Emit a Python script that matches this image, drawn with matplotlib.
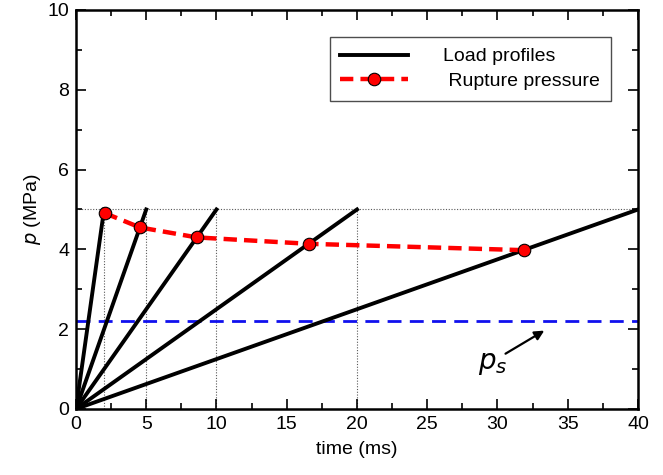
import numpy as np
import matplotlib
matplotlib.use("Agg")
from matplotlib import pyplot as plt
from matplotlib.ticker import MultipleLocator

plt.rcParams['font.family'] = ['Liberation Sans', 'DejaVu Sans']

# load profiles: linear ramps from origin up to 5 MPa at these rise times (ms)
rise_times = [2, 5, 10, 20, 40]
p_peak = 5.0

# rupture pressure points (time in ms, pressure in MPa)
rupture_t = [2.04, 4.55, 8.6, 16.55, 31.9]
rupture_p = [4.91, 4.55, 4.30, 4.14, 3.98]

# static rupture pressure
p_s = 2.2

fig = plt.figure(figsize=(6.63, 4.75), dpi=100)
ax = fig.add_axes([0.1146, 0.139, 0.8477, 0.840])

# guide lines
for t in rise_times[:-1]:
    ax.plot([t, t], [0, p_peak], color='0.35', lw=0.8, ls=(0, (1, 1.5)), zorder=1)
ax.plot([0, 40], [p_peak, p_peak], color='0.35', lw=0.8, ls=(0, (1, 1.5)), zorder=1)

ax.axhline(p_s, color='#1010ee', lw=2.0, ls=(0, (5, 3)), zorder=2)

for i, t in enumerate(rise_times):
    ax.plot([0, t], [0, p_peak], color='black', lw=2.8, zorder=3,
            label='Load profiles' if i == 0 else None)

ax.plot(rupture_t, rupture_p, color='red', lw=3.2, ls=(0, (3, 1.6)),
        marker='o', ms=9, mfc='red', mec='black', mew=0.8, zorder=4,
        label=' Rupture pressure')

ax.annotate('', xy=(33.5, 2.0), xytext=(30.4, 1.35),
            arrowprops=dict(arrowstyle='-|>', color='black', lw=1.6,
                            mutation_scale=14))
ax.text(28.6, 1.12, r'$p_s$', fontsize=20, ha='left', va='center')

ax.set_xlim(0, 40)
ax.set_ylim(0, 10)
ax.xaxis.set_major_locator(MultipleLocator(5))
ax.xaxis.set_minor_locator(MultipleLocator(2.5))
ax.yaxis.set_major_locator(MultipleLocator(2))
ax.yaxis.set_minor_locator(MultipleLocator(1))
ax.tick_params(which='both', direction='in', top=True, right=True,
               labelsize=14, width=1.2)
ax.tick_params(which='major', length=7, pad=5)
ax.tick_params(which='minor', length=4)
for s in ax.spines.values():
    s.set_linewidth(1.8)

ax.set_xlabel('time (ms)', fontsize=14, labelpad=6)
ax.set_ylabel(r'$p$ (MPa)', fontsize=14, labelpad=3)

leg = ax.legend(loc='upper right', bbox_to_anchor=(0.952, 0.932), borderaxespad=0,
                fontsize=14, handlelength=3.5, handletextpad=1.8, fancybox=False,
                edgecolor='0.3', framealpha=1, borderpad=0.55, labelspacing=0.35)
leg.get_frame().set_linewidth(1.0)

fig.savefig('out.png', dpi=100)
